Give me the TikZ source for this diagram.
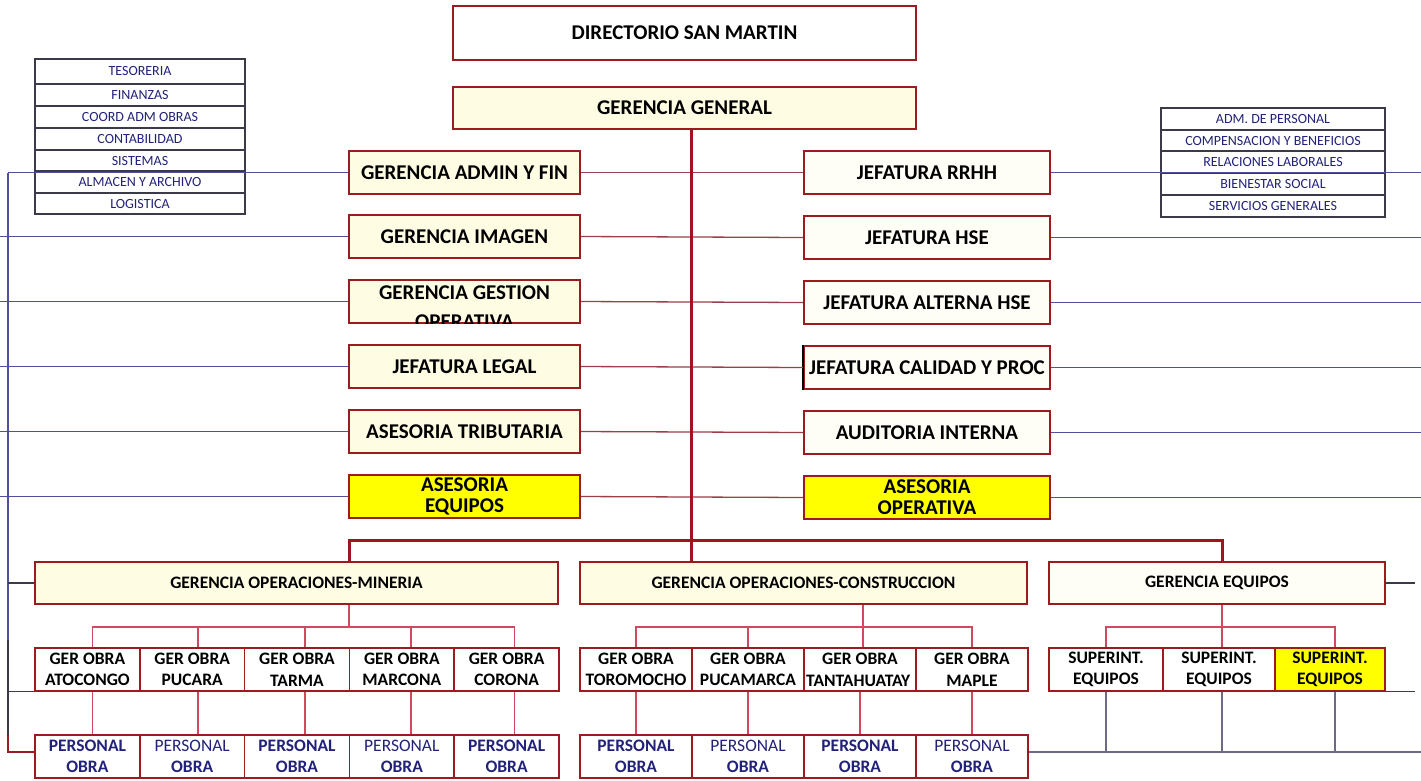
\documentclass[tikz,border=0pt]{standalone}
\usepackage{fontspec}
\setmainfont{Carlito}
\usetikzlibrary{calc}

\definecolor{boxred}{HTML}{9B1B1E}
\definecolor{cream}{HTML}{FFFCE4}
\definecolor{paleyel}{HTML}{FFFEF6}
\definecolor{navy}{HTML}{22227A}
\definecolor{trunkred}{HTML}{A0141E}
\definecolor{rowln}{HTML}{9A4048}
\definecolor{sideln}{HTML}{50509A}
\definecolor{subln}{HTML}{D04A5E}
\definecolor{greyln}{HTML}{6E6A86}
\definecolor{darkln}{HTML}{3A3A48}
\definecolor{yel}{HTML}{FFFF00}

\tikzset{
  unit/.style={draw=boxred, line width=1.6pt, inner sep=0pt, align=center, text=black},
  bigtxt/.style={font=\fontsize{21}{21}\selectfont\bfseries},
  smalltxt/.style={font=\fontsize{17.5}{21.5}\selectfont\bfseries},
  topbox/.style={unit, bigtxt, fill=white, minimum width=463, minimum height=54},
  ggbox/.style={unit, bigtxt, fill=cream, minimum width=463, minimum height=42},
  leftbox/.style={unit, bigtxt, fill=cream, minimum width=231, minimum height=43},
  rightbox/.style={unit, bigtxt, fill=paleyel, minimum width=246, minimum height=43},
  yelbox/.style={fill=yel},
  opbox/.style={unit, smalltxt, fill=cream, minimum height=42},
  obrabox/.style={unit, smalltxt, fill=white, minimum height=43},
  persbox/.style={unit, smalltxt, text=navy, fill=white, minimum height=43},
  listrow/.style={draw=darkln, line width=1.3pt, inner sep=0pt, text=navy,
    font=\fontsize{14}{14}\selectfont, minimum height=22},
  trunkline/.style={draw=trunkred, line width=3pt},
  rowline/.style={draw=rowln, line width=1.3pt},
  sideline/.style={draw=sideln, line width=1.2pt},
  subline/.style={draw=subln, line width=1.5pt},
  greyline/.style={draw=greyln, line width=1.8pt},
  stubline/.style={draw=darkln, line width=1.2pt},
}

\newcommand{\persB}{PERSONAL\\OBRA}
\newcommand{\persR}{{\mdseries PERSONAL}\\OBRA}

\begin{document}
\begin{tikzpicture}[x=1pt, y=-1pt]
\useasboundingbox[fill=white] (0,0) rectangle (1421,780);

% ---- side lists ----
\foreach \t/\y/\h [count=\i] in {TESORERIA/71.5/25, FINANZAS/95/22, COORD ADM OBRAS/117/22,
    CONTABILIDAD/139/22, SISTEMAS/160.5/21, ALMACEN Y ARCHIVO/182/22, LOGISTICA/203.5/21}
  \node[listrow, minimum width=210, minimum height=\h] (la\i) at (140,\y) {\t};
\foreach \t/\y [count=\i] in {ADM. DE PERSONAL/119, COMPENSACION Y BENEFICIOS/140.5,
    RELACIONES LABORALES/162, BIENESTAR SOCIAL/184, SERVICIOS GENERALES/206}
  \node[listrow, minimum width=224] (lb\i) at (1273,\y) {\t};

% ---- top ----
\node[topbox] (dir) at (684.5,33) {DIRECTORIO SAN MARTIN};
\node[ggbox] (gg) at (684.5,108) {GERENCIA GENERAL};

% ---- staff columns ----
\node[leftbox] (l1) at (464.5,172.5) {GERENCIA ADMIN Y FIN};
\node[leftbox] (l2) at (464.5,236.5) {GERENCIA IMAGEN};
\node[leftbox] (l3) at (464.5,301.5) {};
\node[leftbox] (l4) at (464.5,366.5) {JEFATURA LEGAL};
\node[leftbox] (l5) at (464.5,431.5) {ASESORIA TRIBUTARIA};
\node[leftbox, yelbox] (l6) at (464.5,496.5) {ASESORIA\\EQUIPOS};
\begin{scope}
  \clip (l3.south west) rectangle (l3.north east);
  \node[bigtxt, inner sep=0pt] (l3a) at (464.5,293) {GERENCIA GESTION};
  \node[bigtxt, inner sep=0pt] (l3b) at (464.5,322) {OPERATIVA};
\end{scope}

\node[rightbox] (r1) at (927,172.5) {JEFATURA RRHH};
\node[rightbox] (r2) at (927,237.5) {JEFATURA HSE};
\node[rightbox] (r3) at (927,302.5) {JEFATURA ALTERNA HSE};
\node[rightbox] (r4) at (927,367.5) {JEFATURA CALIDAD Y PROC};
\node[rightbox] (r5) at (927,432.5) {AUDITORIA INTERNA};
\node[rightbox, yelbox] (r6) at (927,497.5) {ASESORIA\\OPERATIVA};
\draw[black, line width=1.6pt] (r4.south west) -- (r4.north west);

% ---- operations ----
\node[opbox, minimum width=523] (gom) at (296.5,583) {GERENCIA OPERACIONES-MINERIA};
\node[opbox, minimum width=447] (goc) at (803.5,583) {GERENCIA OPERACIONES-CONSTRUCCION};
\node[opbox, fill=paleyel, minimum width=336] (ge) at (1217,583) {GERENCIA EQUIPOS};

% works, mining
\node[obrabox, minimum width=104.8] (o1) at (87.4,669.5) {GER OBRA\\ATOCONGO};
\node[obrabox, minimum width=104.8] (o2) at (192.2,669.5) {GER OBRA\\PUCARA};
\node[obrabox, minimum width=104.8] (o3) at (297,669.5) {GER OBRA\\TARMA};
\node[obrabox, minimum width=104.8] (o4) at (401.8,669.5) {GER OBRA\\MARCONA};
\node[obrabox, minimum width=104.8] (o5) at (506.6,669.5) {GER OBRA\\CORONA};
% works, construction
\node[obrabox, minimum width=112] (o6) at (636,669.5) {GER OBRA\\TOROMOCHO};
\node[obrabox, minimum width=112] (o7) at (748,669.5) {GER OBRA\\PUCAMARCA};
\node[obrabox, minimum width=112] (o8) at (860,669.5) {};
\node[obrabox, minimum width=112] (o9) at (972,669.5) {GER OBRA\\MAPLE};
\begin{scope}
  \clip (o8.south west) rectangle (o8.north east);
  \node[smalltxt, inner sep=0pt] (o8a) at (860,659) {GER OBRA};
  \node[smalltxt, inner sep=0pt, anchor=west] (o8b) at (806,680.5) {TANTAHUATAY};
\end{scope}
% equipment superintendents
\node[obrabox, minimum width=114] (s1) at (1106,669.5) {SUPERINT.\\EQUIPOS};
\node[obrabox, minimum width=112] (s2) at (1219,669.5) {SUPERINT.\\EQUIPOS};
\node[obrabox, yelbox, minimum width=110] (s3) at (1330,669.5) {SUPERINT.\\EQUIPOS};

% site staff
\node[persbox, minimum width=104.8] (p1) at (87.4,756.5) {\persB};
\node[persbox, minimum width=104.8] (p2) at (192.2,756.5) {\persR};
\node[persbox, minimum width=104.8] (p3) at (297,756.5) {\persB};
\node[persbox, minimum width=104.8] (p4) at (401.8,756.5) {\persR};
\node[persbox, minimum width=104.8] (p5) at (506.6,756.5) {\persB};
\node[persbox, minimum width=112] (p6) at (636,756.5) {\persB};
\node[persbox, minimum width=112] (p7) at (748,756.5) {\persR};
\node[persbox, minimum width=112] (p8) at (860,756.5) {\persB};
\node[persbox, minimum width=112] (p9) at (972,756.5) {\persR};

% ---- connectors ----
\coordinate (lc) at (8,172.5);
\coordinate (lm) at (8,640);
\coordinate (ln) at (8,735);
\coordinate (lz) at (8,752);
\coordinate (edgeL) at (0,0);
\coordinate (edgeR) at (1421,0);

% rows through the trunk
\foreach \i in {1,...,6}
  \draw[rowline] (l\i.east) -- (r\i.west);
% outer lines
\draw[sideline] (l1.west) -- (lc);
\foreach \i in {2,...,6}
  \draw[sideline] (l\i.west) -- (l\i.west -| edgeL);
\foreach \i in {1,...,6}
  \draw[sideline] (r\i.east) -- (r\i.east -| edgeR);

% left riser
\draw[sideline] (lc) -- (lm);
\draw[draw=darkln, line width=1.5pt] (lm) -- (ln);
\draw[draw=boxred, line width=1.8pt] (ln) -- (lz) -- (lz -| p1.west);
\draw[stubline] (lc |- gom.west) -- (gom.west);
\draw[stubline] (lc |- o1.south west) -- (o1.south west);

% trunk and bar
\coordinate (tk) at (691,0);
\coordinate (barL) at (349,540);
\coordinate (barR) at (1222,540);
\draw[trunkline] (gg.south -| tk) -- (goc.north -| tk);
\draw[trunkline] (gom.north -| barL) -- (barL) -- (barR) -- (ge.north -| barR);

% mining sub-bar
\coordinate (sb1) at (349,627);
\draw[subline] (gom.south -| sb1) -- (sb1);
\draw[subline] ([xshift=5pt]o1.north) -- ([xshift=5pt]o1.north |- sb1) -- ([xshift=8pt]o5.north |- sb1) -- ([xshift=8pt]o5.north);
\draw[subline] ([xshift=6pt]o2.north) -- ([xshift=6pt]o2.north |- sb1);
\draw[subline] ([xshift=8pt]o3.north) -- ([xshift=8pt]o3.north |- sb1);
\draw[subline] ([xshift=9pt]o4.north) -- ([xshift=9pt]o4.north |- sb1);
\draw[subline] ([xshift=5pt]o1.south) -- ([xshift=5pt]p1.north);
\draw[subline] ([xshift=6pt]o2.south) -- ([xshift=6pt]p2.north);
\draw[subline] ([xshift=8pt]o3.south) -- ([xshift=8pt]p3.north);
\draw[subline] ([xshift=9pt]o4.south) -- ([xshift=9pt]p4.north);
\draw[subline] ([xshift=8pt]o5.south) -- ([xshift=8pt]p5.north);

% construction sub-bar
\coordinate (sb2) at (863,627);
\draw[subline] (goc.south -| sb2) -- (sb2 |- o8.north);
\draw[subline] (o6.north) -- (o6.north |- sb2) -- (o9.north |- sb2) -- (o9.north);
\draw[subline] (o7.north) -- (o7.north |- sb2);
\foreach \i in {6,...,9}
  \draw[subline] (o\i.south) -- (p\i.north);

% equipment sub-bar
\coordinate (sb3) at (1222,627);
\draw[subline] (ge.south -| sb3) -- (sb3 |- s2.north);
\draw[subline] (s1.north) -- (s1.north |- sb3) -- ([xshift=5pt]s3.north |- sb3) -- ([xshift=5pt]s3.north);
\coordinate (bl) at (1421,752);
\draw[greyline] (s1.south) -- (s1.south |- bl);
\draw[greyline] (s2.south -| sb3) -- (sb3 |- bl);
\draw[greyline] ([xshift=5pt]s3.south) -- ([xshift=5pt]s3.south |- bl);
\draw[greyline] (p9.east |- bl) -- (bl);
\draw[stubline] (ge.east) -- (ge.east -| 1415,0);
\draw[stubline] (s3.south east) -- (s3.south east -| 1415,0);
\end{tikzpicture}
\end{document}
